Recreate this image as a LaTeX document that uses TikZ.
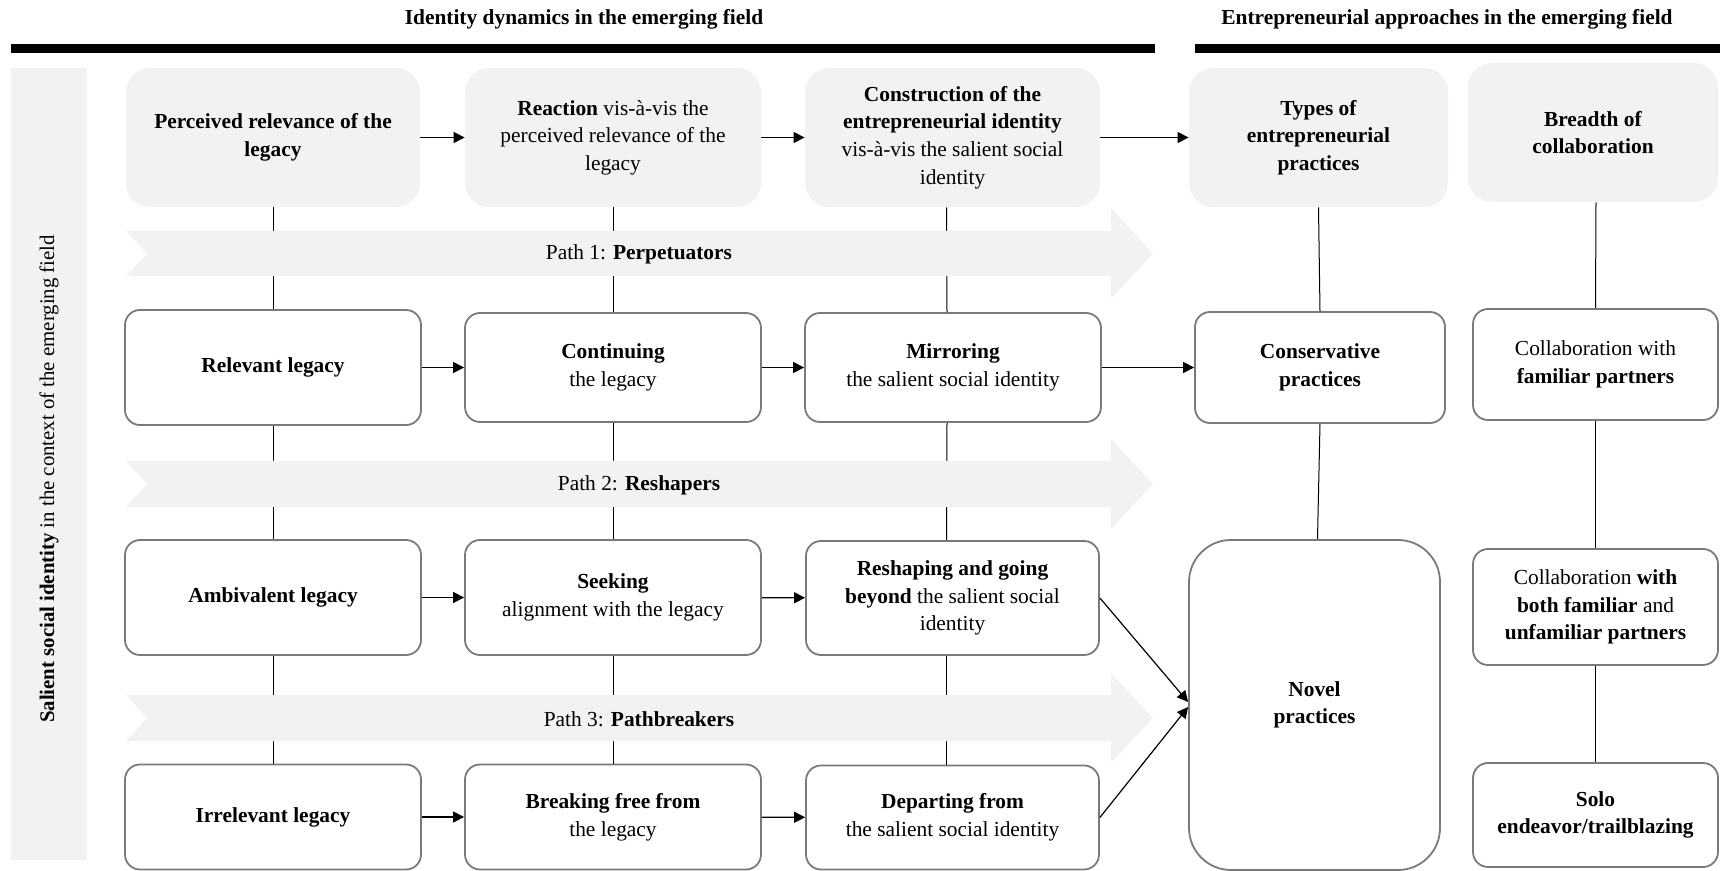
\documentclass[tikz,border=0pt]{standalone}
\usepackage{fontspec}
\setmainfont{Liberation Serif}
\usetikzlibrary{arrows.meta}
\definecolor{hdrgray}{HTML}{F2F2F2}
\definecolor{boxgray}{HTML}{7A7A7A}
\begin{document}
\begin{tikzpicture}[x=0.5pt,y=-0.5pt,
  every node/.style={font=\fontsize{10.7}{13.8}\selectfont, align=center, inner sep=0pt},
  hdr/.style={fill=hdrgray, rounded corners=12pt},
  box/.style={draw=boxgray, line width=0.9pt, fill=white, rounded corners=7.5pt},
  conn/.style={line width=0.5pt, black},
  arr/.style={-{Triangle[length=5.5pt,width=5.5pt]}, line width=0.6pt, black},
  chev/.style={fill=hdrgray},
  bar/.style={fill=black}
]
\useasboundingbox (0,0) rectangle (1720,871);

% headings
\node[font=\fontsize{10.7}{13}\selectfont\bfseries] (t1) at (584,19) {Identity dynamics in the emerging field};
\node[font=\fontsize{10.7}{13}\selectfont\bfseries] (t2) at (1447,19) {Entrepreneurial approaches in the emerging field};
\fill[bar] (11,44) rectangle (1155,53);
\fill[bar] (1195,44) rectangle (1720,53);

% left band
\fill[hdrgray] (11,68) rectangle (87,860);
\node[rotate=90, font=\fontsize{10.4}{13}\selectfont] (side) at (49,479) {\textbf{Salient social identity} in the context of the emerging field};

% header boxes
\node[hdr, minimum width=147pt, minimum height=69.5pt] (h1) at (273,137.5) {\textbf{Perceived relevance of the}\\\textbf{legacy}};
\node[hdr, minimum width=148pt, minimum height=69.5pt] (h2) at (613,137.5) {\textbf{Reaction} vis-à-vis the\\perceived relevance of the\\legacy};
\node[hdr, minimum width=147.5pt, minimum height=69.5pt] (h3) at (952.5,137.5) {\textbf{Construction of the}\\\textbf{entrepreneurial identity}\\vis-à-vis the salient social\\identity};
\node[hdr, minimum width=129.5pt, minimum height=69.5pt] (h4) at (1318.5,137.5) {\textbf{Types of}\\\textbf{entrepreneurial}\\\textbf{practices}};
\node[hdr, minimum width=125pt, minimum height=69.5pt] (h5) at (1593,132.5) {\textbf{Breadth of}\\\textbf{collaboration}};

% row 1
\node[box, minimum width=148pt, minimum height=57.5pt] (r1c1) at (273,367.5) {\textbf{Relevant legacy}};
\node[box, minimum width=148pt, minimum height=54.5pt] (r1c2) at (613,367.5) {\textbf{Continuing}\\the legacy};
\node[box, minimum width=148pt, minimum height=54.5pt] (r1c3) at (953,367.5) {\textbf{Mirroring}\\the salient social identity};
\node[box, minimum width=125pt, minimum height=55.5pt] (r1c4) at (1320,367.5) {\textbf{Conservative}\\\textbf{practices}};
\node[box, minimum width=122.5pt, minimum height=55.5pt] (r1c5) at (1595.5,364.5) {Collaboration with\\\textbf{familiar partners}};

% row 2
\node[box, minimum width=148pt, minimum height=57.5pt] (r2c1) at (273,597.5) {\textbf{Ambivalent legacy}};
\node[box, minimum width=148pt, minimum height=57.5pt] (r2c2) at (613,597.5) {\textbf{Seeking}\\alignment with the legacy};
\node[box, minimum width=146.5pt, minimum height=57pt] (r2c3) at (952.5,598) {\textbf{Reshaping and going}\\\textbf{beyond} the salient social\\identity};
\node[box, rounded corners=21pt, minimum width=125.5pt, minimum height=165pt] (novel) at (1314.5,705) {\textbf{Novel}\\\textbf{practices}};
\node[box, minimum width=122.5pt, minimum height=58pt] (r2c5) at (1595.5,607) {Collaboration \textbf{with}\\\textbf{both familiar} and\\\textbf{unfamiliar partners}};

% row 3
\node[box, minimum width=148pt, minimum height=52.5pt] (r3c1) at (273,817) {\textbf{Irrelevant legacy}};
\node[box, minimum width=148pt, minimum height=52.5pt] (r3c2) at (613,817) {\textbf{Breaking free from}\\the legacy};
\node[box, minimum width=146.5pt, minimum height=52pt] (r3c3) at (952.5,817.5) {\textbf{Departing from}\\the salient social identity};
\node[box, minimum width=122.5pt, minimum height=52pt] (r3c5) at (1595.5,815) {\textbf{Solo}\\\textbf{endeavor/trailblazing}};

% vertical connectors (behind chevrons)
\draw[conn] (h1) -- (r1c1);
\draw[conn] (r1c1) -- (r2c1);
\draw[conn] (r2c1) -- (r3c1);
\draw[conn] (h2) -- (r1c2);
\draw[conn] (r1c2) -- (r2c2);
\draw[conn] (r2c2) -- (r3c2);
\draw[conn] ([xshift=-3pt]h3.south) -- ([xshift=-3pt]r1c3.north);
\draw[conn] ([xshift=-3pt]r1c3.south) -- ([xshift=-3pt]r2c3.north);
\draw[conn] ([xshift=-3pt]r2c3.south) -- ([xshift=-3pt]r3c3.north);
\draw[conn] (h4.south) -- (r1c4.north);
\draw[conn] (r1c4.south) -- ([xshift=1.5pt]novel.north);
\draw[conn] ([xshift=1.5pt]h5.south) -- (r1c5.north);
\draw[conn] (r1c5) -- (r2c5);
\draw[conn] (r2c5) -- (r3c5);

% path chevrons
\fill[chev] (126,231) -- (1111,231) -- (1111,208) -- (1153,253.5) -- (1111,299) -- (1111,276) -- (126,276) -- (147,253.5) -- cycle;
\fill[chev] (126,461) -- (1111,461) -- (1111,439) -- (1153,484) -- (1111,529) -- (1111,507) -- (126,507) -- (147,484) -- cycle;
\fill[chev] (126,695) -- (1111,695) -- (1111,673) -- (1153,718) -- (1111,763) -- (1111,741) -- (126,741) -- (147,718) -- cycle;
\node (p1) at (639,254) {Path 1: \textbf{Perpetuators}};
\node (p2) at (639,485) {Path 2: \textbf{Reshapers}};
\node (p3) at (639,719) {Path 3: \textbf{Pathbreakers}};

% arrows
\draw[arr] (h1) -- (h2);
\draw[arr] (h2) -- (h3);
\draw[arr] (h3) -- (h4);
\draw[arr] (r1c1) -- (r1c2);
\draw[arr] (r1c2) -- (r1c3);
\draw[arr] (r1c3) -- (r1c4);
\draw[arr] (r2c1) -- (r2c2);
\draw[arr] (r2c2) -- (r2c3);
\draw[arr] (r3c1) -- (r3c2);
\draw[arr] (r3c2) -- (r3c3);
\draw[arr] (r2c3.east) -- ([yshift=1.5pt]novel.west);
\draw[arr] (r3c3.east) -- ([yshift=-1pt]novel.west);
\end{tikzpicture}
\end{document}
